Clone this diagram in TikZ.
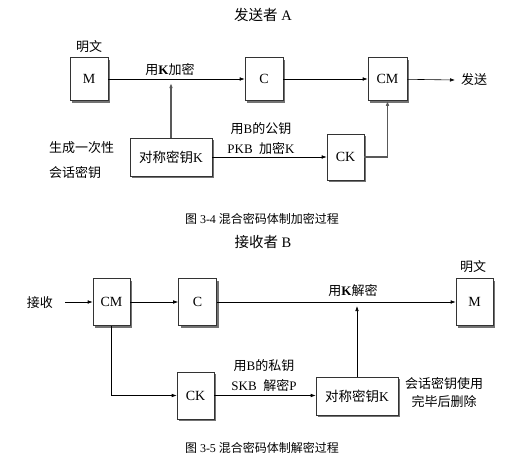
\documentclass[tikz,border=0pt]{standalone}
\usepackage{fontspec}
\setmainfont{Liberation Serif}
\newfontfamily\cjk{Noto Sans CJK SC}
\usetikzlibrary{arrows.meta,shadows}
\newcommand\zh[1]{{\cjk #1}}
\tikzset{
  blk/.style={draw=black!80, fill=white, line width=0.6pt, inner sep=0pt,
    drop shadow={shadow xshift=2pt, shadow yshift=-2pt, fill=black!55, opacity=1},
    font=\fontsize{14}{14}\selectfont},
  lbl/.style={inner sep=0pt, font=\fontsize{13}{13}\selectfont},
  captxt/.style={inner sep=0pt, font=\fontsize{12}{12}\selectfont},
  ttl/.style={inner sep=0pt, font=\fontsize{14.5}{14.5}\selectfont},
  arr/.style={line width=0.6pt, -{Latex[length=5pt,width=3.6pt]}},
  gry/.style={draw=black!65, line width=1.1pt}
}
\begin{document}
\begin{tikzpicture}[x=1pt,y=-1pt]
\useasboundingbox[fill=white] (0,0) rectangle (523,459);
% ---------- top: sender A
\node[ttl] (tA) at (263,15) {\zh{发送者} A};
\node[blk, minimum width=38pt, minimum height=43pt] (M1) at (89,79) {M};
\node[lbl] (mw1) at (89,47) {\zh{明文}};
\node[blk, minimum width=38pt, minimum height=43pt] (C1) at (264,79) {C};
\node[blk, minimum width=39pt, minimum height=43pt] (CM1) at (387.5,79) {CM};
\node[lbl, anchor=west] (send) at (461,80) {\zh{发送}};
\node[blk, minimum width=82pt, minimum height=38pt, font=\fontsize{13.5}{13.5}\selectfont] (K1) at (171,157) {\zh{对称密钥}K};
\node[blk, minimum width=37pt, minimum height=46pt] (CK1) at (345.5,157) {CK};
\node[lbl] (l1) at (170,70) {\zh{用}\textbf{K}\zh{加密}};
\node[lbl, anchor=west] (g1) at (49,148) {\zh{生成一次性}};
\node[lbl, anchor=west] (g2) at (49,173) {\zh{会话密钥}};
\node[lbl] (p1) at (261,129) {\zh{用}B\zh{的公钥}};
\node[lbl] (p2) at (261,148) {PKB\ \ \zh{加密}K};
\node[captxt] (cap1) at (262,219) {\zh{图} 3-4 \zh{混合密码体制加密过程}};
\coordinate (j1) at (171,83);
\coordinate (s1) at (455,80);
\draw[arr] (M1) -- (C1);
\draw[arr] (C1) -- (CM1);
\draw[arr] (CM1) -- (s1);
\draw[arr] (K1) -- (CK1);
\draw[gry, -{Latex[length=5pt,width=3.6pt]}] (K1.north) -- (j1);
\draw[gry, -{Latex[length=5pt,width=3.6pt]}] (CK1.east) -| (CM1.south);
% ---------- bottom: receiver B
\node[ttl] (tB) at (263,242) {\zh{接收者} B};
\node[lbl] (rx) at (40,303) {\zh{接收}};
\node[blk, minimum width=37pt, minimum height=47pt] (CM2) at (111.5,302) {CM};
\node[blk, minimum width=38pt, minimum height=47pt] (C2) at (197.5,302) {C};
\node[blk, minimum width=37pt, minimum height=47pt] (M2) at (474.5,302) {M};
\node[lbl] (mw2) at (473,267) {\zh{明文}};
\node[lbl] (l2) at (353,291) {\zh{用}\textbf{K}\zh{解密}};
\node[blk, minimum width=37pt, minimum height=47pt] (CK2) at (195.5,395.5) {CK};
\node[blk, minimum width=82pt, minimum height=38pt, font=\fontsize{13.5}{13.5}\selectfont] (K2) at (357,396) {\zh{对称密钥}K};
\node[lbl] (q1) at (264,366) {\zh{用}B\zh{的私钥}};
\node[lbl] (q2) at (264,386) {SKB\ \ \zh{解密}P};
\node[lbl] (d1) at (444,384) {\zh{会话密钥使用}};
\node[lbl] (d2) at (444,402) {\zh{完毕后删除}};
\node[captxt] (cap2) at (262,448) {\zh{图} 3-5 \zh{混合密码体制解密过程}};
\coordinate (r0) at (65,302);
\coordinate (j2) at (357,306);
\draw[arr] (r0) -- (CM2);
\draw[arr] (CM2) -- (C2);
\draw[arr] (C2) -- (M2);
\draw[arr] (CM2.south) |- (CK2.west);
\draw[arr] (CK2.east) -- (CK2.east -| K2.west);
\draw[arr] (K2.north) -- (j2);
\end{tikzpicture}
\end{document}
